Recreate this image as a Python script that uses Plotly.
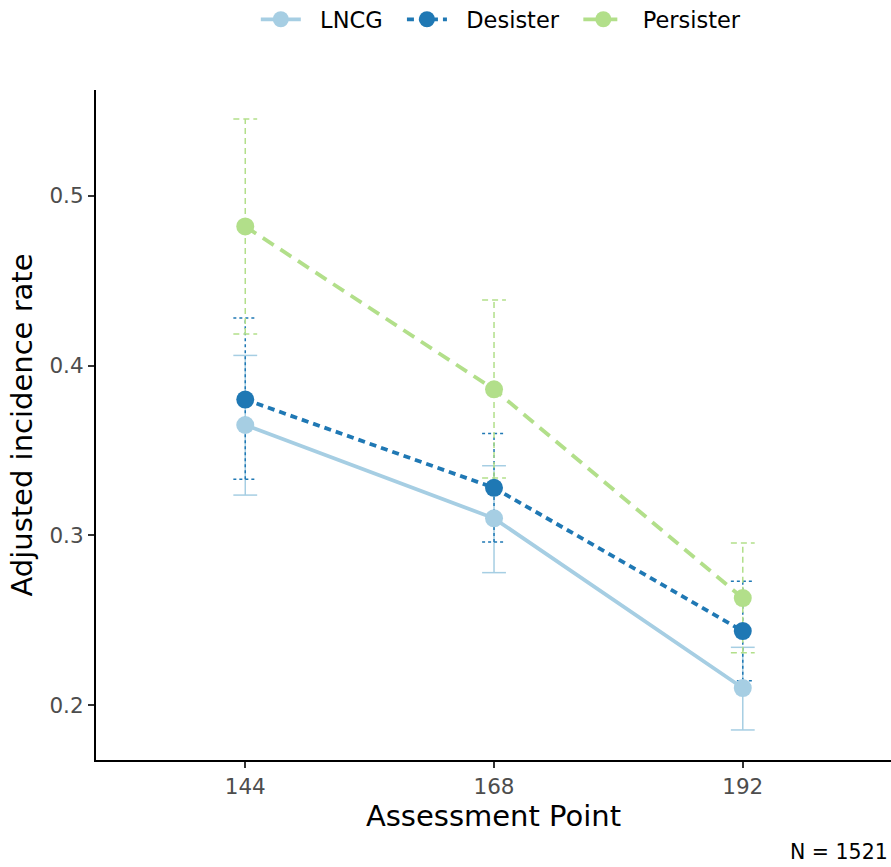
import plotly.graph_objects as go

assessment = [144, 168, 192]
groups = ["LNCG", "Desister", "Persister"]
est = {
    "LNCG": [0.365, 0.310, 0.210],
    "Desister": [0.380, 0.328, 0.2436],
    "Persister": [0.482, 0.386, 0.263],
}
lower = {
    "LNCG": [0.3237, 0.278, 0.1853],
    "Desister": [0.333, 0.296, 0.2143],
    "Persister": [0.4186, 0.3338, 0.2308],
}
upper = {
    "LNCG": [0.406, 0.341, 0.234],
    "Desister": [0.428, 0.360, 0.273],
    "Persister": [0.5453, 0.4387, 0.2955],
}
colors = {"LNCG": "#a6cee3", "Desister": "#1f78b4", "Persister": "#b2df8a"}
line_dash = {"LNCG": "solid", "Desister": "7px,5px", "Persister": "13px,8px"}
err_dash = {"LNCG": "solid", "Desister": "3px,3px", "Persister": "6px,4px"}

cap_half = 1.15  # half width of error bar caps in x units

fig = go.Figure()

# error bars as line traces (dashed per group)
for g in groups:
    xs, ys = [], []
    for x, lo, hi in zip(assessment, lower[g], upper[g]):
        xs += [x, x, None, x - cap_half, x + cap_half, None, x - cap_half, x + cap_half, None]
        ys += [lo, hi, None, lo, lo, None, hi, hi, None]
    fig.add_trace(go.Scatter(
        x=xs, y=ys, mode="lines", showlegend=False, hoverinfo="skip",
        line=dict(color=colors[g], width=1.5, dash=err_dash[g]),
    ))

for g in groups:
    fig.add_trace(go.Scatter(
        x=assessment, y=est[g], mode="lines+markers", name="  " + g + "  ",
        line=dict(color=colors[g], width=3.8, dash=line_dash[g]),
        marker=dict(color=colors[g], size=18),
    ))

fig.update_layout(
    width=891, height=867,
    paper_bgcolor="white", plot_bgcolor="white",
    margin=dict(l=96, r=0, t=90, b=107, autoexpand=False),
    font=dict(family="DejaVu Sans", size=20, color="black"),
    showlegend=True,
    legend=dict(orientation="h", x=0.518, xanchor="center", y=1.105, yanchor="middle",
                font=dict(size=22.5, color="black"), itemwidth=40),
    xaxis=dict(
        range=[129.6, 206.3], tickvals=assessment, ticktext=[str(v) for v in assessment],
        showgrid=False, zeroline=False, showline=True, linecolor="black", linewidth=2.2,
        ticks="outside", ticklen=6, tickwidth=1.5, tickcolor="#333333",
        tickfont=dict(size=21.5, color="#4d4d4d"),
        title=dict(text="Assessment Point", font=dict(size=29, color="black"), standoff=4),
    ),
    yaxis=dict(
        range=[0.1676, 0.5624], tickvals=[0.2, 0.3, 0.4, 0.5], ticktext=["0.2", "0.3", "0.4", "0.5"],
        showgrid=False, zeroline=False, showline=True, linecolor="black", linewidth=2.2,
        ticks="outside", ticklen=6, tickwidth=1.5, tickcolor="#333333",
        tickfont=dict(size=21.5, color="#4d4d4d"),
        title=dict(text="Adjusted incidence rate", font=dict(size=29, color="black"), standoff=8),
    ),
    annotations=[dict(
        text="N = 1521", xref="paper", yref="paper", x=1.0, y=-0.137,
        xanchor="right", yanchor="middle", showarrow=False, xshift=-1,
        font=dict(size=20.5, color="black"),
    )],
)

fig.write_html(
    "out.html",
    config={"displayModeBar": False},
    post_script="document.body.style.margin='0';document.body.style.overflow='hidden';",
)
